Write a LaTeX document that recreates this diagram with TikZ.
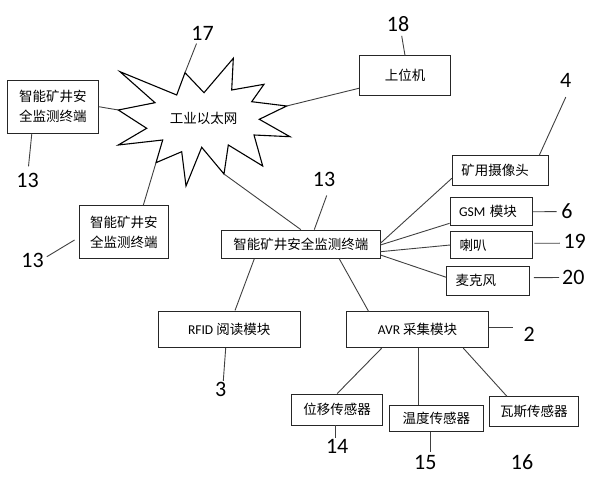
\documentclass[tikz,border=0pt]{standalone}
\usepackage{fontspec}
\setmainfont{Carlito}
\newfontfamily\cjk{Noto Sans CJK SC}
\newcommand\lat[1]{{\normalfont #1}}

\begin{document}
\begin{tikzpicture}[x=1pt,y=-1pt,
  box/.style={rectangle,draw=black!85,line width=0.9pt,inner sep=0pt,align=center,font=\cjk\fontsize{13.5}{20}\selectfont},
  side/.style={box,inner xsep=9pt,align=left},
  num/.style={inner sep=1pt,font=\fontsize{22}{24}\selectfont},
  link/.style={draw=black!75,line width=0.9pt},
  burst/.style={draw=black,line width=1.1pt,fill=white,line join=miter}
]
\useasboundingbox (0,0) rectangle (594,478);
% network burst
\draw[burst] (120,71.7) -- (176.7,95) -- (185,72.7) coordinate (s3) -- (204,92.7) -- (233.3,58.3) -- (231.7,90)
  -- (264,84.3) -- (251.7,101.7) -- (286.7,106) coordinate (s9) -- (259.3,119.3) -- (290,136.7) -- (254,135)
  -- (262.7,166) -- (228.3,145) -- (224,174) coordinate (s15) -- (201.7,147.3) -- (186,186) -- (181.7,151.7)
  -- (156,162.7) coordinate (s19) -- (162.7,140) -- (118.3,145) -- (146.7,128.3) -- (118.3,110) coordinate (s23)
  -- (155,102.7) -- cycle;
\node[font=\cjk\fontsize{13.5}{16}\selectfont] (net) at (203.5,118.3) {工业以太网};
% boxes
\node[box,minimum width=91pt,minimum height=53pt] (lt) at (52.8,106.7) {智能矿井安\\全监测终端};
\node[box,minimum width=89pt,minimum height=52.6pt] (mt2) at (123.8,232) {智能矿井安\\全监测终端};
\node[box,minimum width=91.4pt,minimum height=39.7pt] (host) at (405,75.8) {上位机};
\node[side,text width=78pt,minimum height=30pt] (cam) at (500.3,170.7) {矿用摄像头};
\node[side,text width=64.3pt,minimum height=28.3pt] (gsm) at (491.2,211.8) {\lat{GSM} 模块};
\node[side,text width=63.6pt,minimum height=26.6pt] (spk) at (491.5,245) {喇叭};
\node[side,text width=64.6pt,minimum height=28.3pt] (mic) at (488,280.8) {麦克风};
\node[box,minimum width=158.3pt,minimum height=28.3pt] (term) at (300.8,244.2) {智能矿井安全监测终端};
\node[box,minimum width=141.7pt,minimum height=36.7pt] (rfid) at (229.2,329.3) {\lat{RFID} 阅读模块};
\node[box,minimum width=141.6pt,minimum height=36pt] (avr) at (417.5,329.7) {\lat{AVR} 采集模块};
\node[box,minimum width=91pt,minimum height=31pt] (disp) at (337.2,409.5) {位移传感器};
\node[box,minimum width=94pt,minimum height=26.7pt] (temp) at (436.3,418.3) {温度传感器};
\node[box,minimum width=89pt,minimum height=29.3pt] (gas) at (533.8,411.3) {瓦斯传感器};
% reference numbers
\node[num] (n17) at (202.5,33.3) {17};
\node[num] (n13a) at (27.5,180.8) {13};
\node[num] (n13b) at (32.5,260) {13};
\node[num] (n18) at (398,24.3) {18};
\node[num] (n4) at (565.8,80.8) {4};
\node[num] (n6) at (567,211.6) {6};
\node[num] (n19) at (574.7,241.2) {19};
\node[num] (n20) at (573.3,277.5) {20};
\node[num] (n13c) at (324,179.7) {13};
\node[num] (n2) at (529.2,334.2) {2};
\node[num] (n3) at (220.8,389.2) {3};
\node[num] (n14) at (337.2,446.7) {14};
\node[num] (n15) at (425.3,462) {15};
\node[num] (n16) at (522,462) {16};
% connections
\draw[link] (lt.east) -- (s23);
\draw[link] ([xshift=19.5pt]mt2.north) -- (s19);
\draw[link] ([yshift=-12.5pt]host.west) -- (s9);
\draw[link] (term.north) -- (s15);
\draw[link] ([yshift=0.9pt]term.east) -- ([yshift=-7.6pt]cam.west);
\draw[link] ([yshift=-0.8pt]term.east) -- ([yshift=-11.5pt]gsm.west);
\draw[link] ([yshift=-7.5pt]term.east) -- (spk.west);
\draw[link] ([yshift=-10.8pt]term.east) -- ([yshift=3.5pt]mic.west);
\draw[link] ([xshift=-46.5pt]term.south) -- ([xshift=5.8pt]rfid.north);
\draw[link] ([xshift=38.5pt]term.south) -- ([xshift=-49pt]avr.north);
\draw[link] ([xshift=-35.8pt]avr.south) -- (disp.north);
\draw[link] ([xshift=0.8pt]avr.south) -- ([xshift=-18pt]temp.north);
\draw[link] ([xshift=45.8pt]avr.south) -- ([xshift=-27pt]gas.north);
% leader lines
\draw[link] ([xshift=-6pt,yshift=-2pt]n17.south) -- (s3);
\draw[link] ([xshift=-21pt]lt.south) -- ([xshift=1pt,yshift=6pt]n13a.north);
\draw[link] ([xshift=2pt,yshift=3.3pt]n13b.east) -- ([xshift=-4.3pt,yshift=-8pt]mt2.west);
\draw[link] ([xshift=3.7pt,yshift=-2.7pt]n18.south) -- (host.north);
\draw[link] ([yshift=-8pt]n4.south) -- ([xshift=39pt]cam.north);
\draw[link] (gsm.east) -- ([xshift=-3.7pt]n6.west);
\draw[link] ([xshift=1.7pt,yshift=1.7pt]spk.east) -- ([xshift=-2.5pt,yshift=-2pt]n19.west);
\draw[link] ([xshift=4pt,yshift=3.1pt]mic.east) -- ([xshift=-1.9pt]n20.west);
\draw[link] ([xshift=2.7pt,yshift=-7.4pt]n13c.south) -- ([xshift=13.5pt]term.north);
\draw[link] ([yshift=2.4pt]avr.east) -- ([xshift=-9.9pt,yshift=6.9pt]n2.west);
\draw[link] ([xshift=-3.5pt]rfid.south) -- ([xshift=2.5pt]n3.north);
\draw[link] ([xshift=-2.2pt]disp.south) -- ([xshift=-2.2pt]n14.north);
\draw[link] ([xshift=-6.3pt]temp.south) -- ([xshift=4.7pt,yshift=1.3pt]n15.north);
\end{tikzpicture}
\end{document}
